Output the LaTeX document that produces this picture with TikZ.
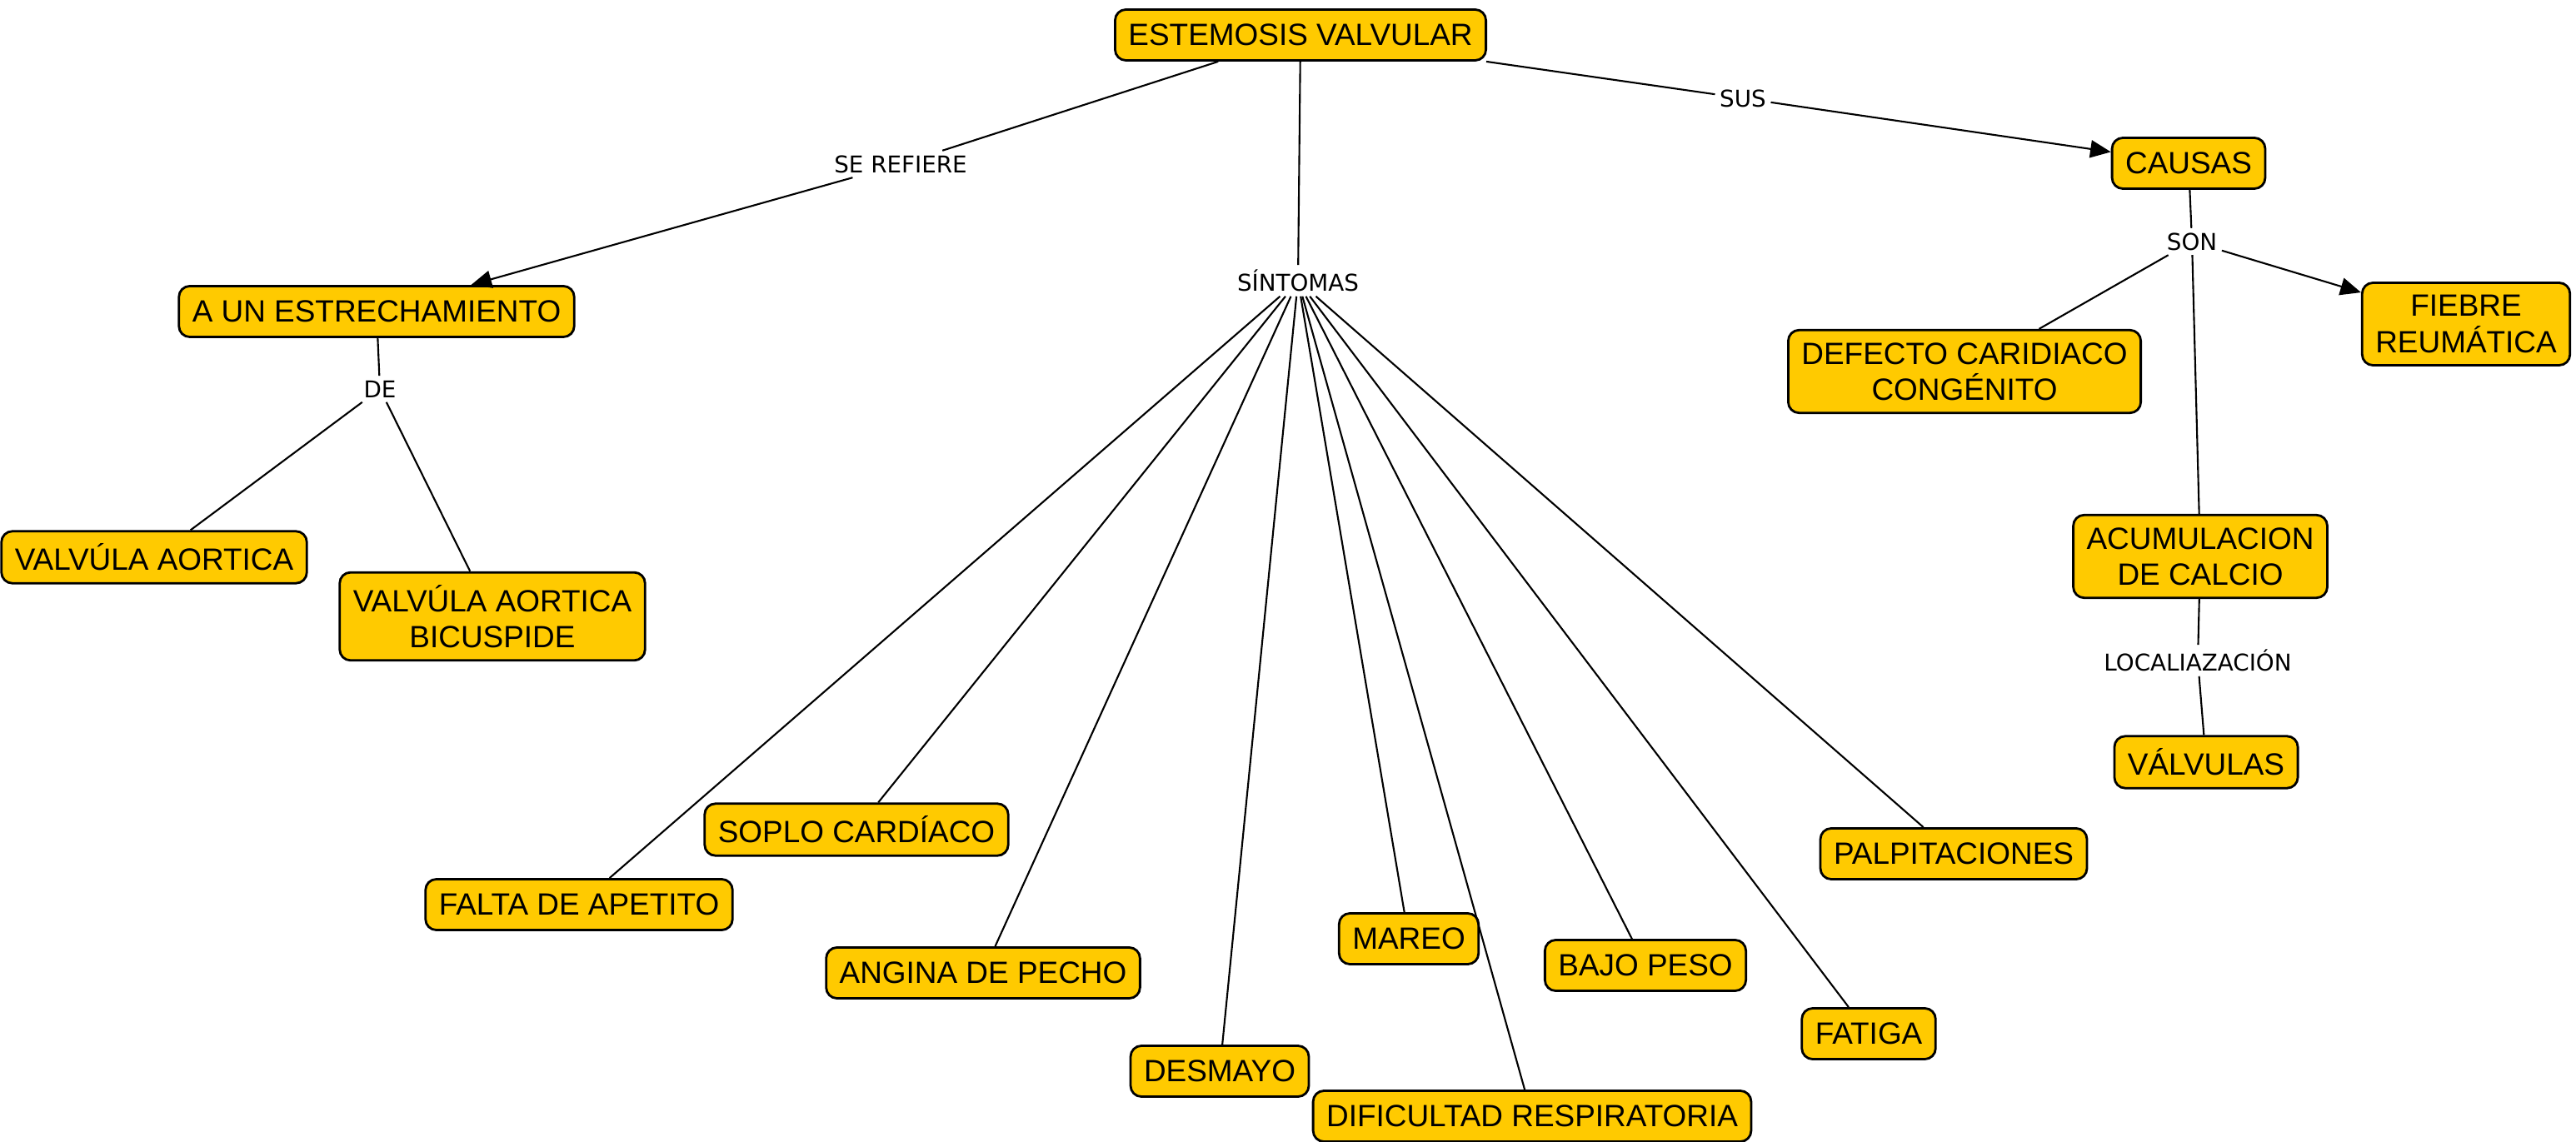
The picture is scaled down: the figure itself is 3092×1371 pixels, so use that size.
\documentclass[tikz,border=0pt]{standalone}
\usepackage{fontspec}
\setmainfont{Liberation Sans}
\newfontfamily\linkfont{DejaVu Sans}
\usepackage{xcolor}
\usepackage{tikz}
\usetikzlibrary{arrows.meta}
\definecolor{conceptgold}{HTML}{FFCA00}

\begin{document}
\begin{tikzpicture}[x=0.01cm, y=-0.01cm,
    concept/.style={draw=black, line width=0.8pt, fill=conceptgold, rounded corners=3.7pt,
      inner xsep=0.16cm, inner ysep=0.15cm, minimum height=0.61cm, align=center,
      font=\fontsize{10.5}{12.3}\selectfont},
    linkword/.style={inner sep=0.05cm, font=\linkfont\fontsize{7.9}{9.5}\selectfont},
    link/.style={line width=0.6pt},
    linkarrow/.style={link, -{Triangle[length=7pt, width=6pt]}}]
    \useasboundingbox (0,0) rectangle (3092,1371);

    % Main concept and first level
    \node[concept] (estenosis) at (1561,42) {ESTEMOSIS VALVULAR};
    \node[concept] (estrecho) at (452,374) {A UN ESTRECHAMIENTO};
    \node[concept] (causas) at (2627,196) {CAUSAS};

    % Causes branch
    \node[concept] (fiebre) at (2960,389) {FIEBRE\\REUMÁTICA};
    \node[concept] (defecto) at (2358,446) {DEFECTO CARIDIACO\\CONGÉNITO};
    \node[concept] (calcio) at (2641,668) {ACUMULACION\\DE CALCIO};
    \node[concept] (valvulas) at (2648,915) {VÁLVULAS};

    % Narrowing branch
    \node[concept] (aortica) at (185,669) {VALVÚLA AORTICA};
    \node[concept] (bicuspide) at (591,740) {VALVÚLA AORTICA\\BICUSPIDE};

    % Symptoms
    \node[concept] (apetito) at (695,1086) {FALTA DE APETITO};
    \node[concept] (soplo) at (1028,996) {SOPLO CARDÍACO};
    \node[concept] (angina) at (1180,1168) {ANGINA DE PECHO};
    \node[concept] (desmayo) at (1464,1286) {DESMAYO};
    \node[concept] (mareo) at (1691,1127) {MAREO};
    \node[concept] (dificultad) at (1839,1340) {DIFICULTAD RESPIRATORIA};
    \node[concept] (bajopeso) at (1975,1159) {BAJO PESO};
    \node[concept] (fatiga) at (2243,1241) {FATIGA};
    \node[concept] (palpita) at (2345,1025) {PALPITACIONES};

    % Linking words
    \node[linkword] (refiere) at (1081,197) {SE REFIERE};
    \node[linkword] (sus) at (2092,118) {SUS};
    \node[linkword] (sintomas) at (1558,337) {SÍNTOMAS};
    \node[linkword] (de) at (456,467) {DE};
    \node[linkword] (son) at (2631,290) {SON};
    \node[linkword] (localiza) at (2638,793) {LOCALIAZACIÓN};

    % Connectors
    \draw[link] (estenosis) -- (refiere);
    \draw[linkarrow] (refiere) -- (estrecho);
    \draw[link] (estenosis) -- (sus);
    \draw[linkarrow] (sus) -- (causas);
    \draw[link] (estenosis) -- (sintomas);
    \draw[link] (sintomas) -- (apetito);
    \draw[link] (sintomas) -- (soplo);
    \draw[link] (sintomas) -- (angina);
    \draw[link] (sintomas) -- (desmayo);
    \draw[link] (sintomas) -- (mareo);
    \draw[link] (sintomas) -- (dificultad);
    \draw[link] (sintomas) -- (bajopeso);
    \draw[link] (sintomas) -- (fatiga);
    \draw[link] (sintomas) -- (palpita);
    \draw[link] (estrecho) -- (de);
    \draw[link] (de) -- (aortica);
    \draw[link] (de) -- (bicuspide);
    \draw[link] (causas) -- (son);
    \draw[linkarrow] (son) -- (fiebre);
    \draw[link] (son) -- (defecto);
    \draw[link] (son) -- (calcio);
    \draw[link] (calcio) -- (localiza);
    \draw[link] (localiza) -- (valvulas);
  \end{tikzpicture}
\end{document}
